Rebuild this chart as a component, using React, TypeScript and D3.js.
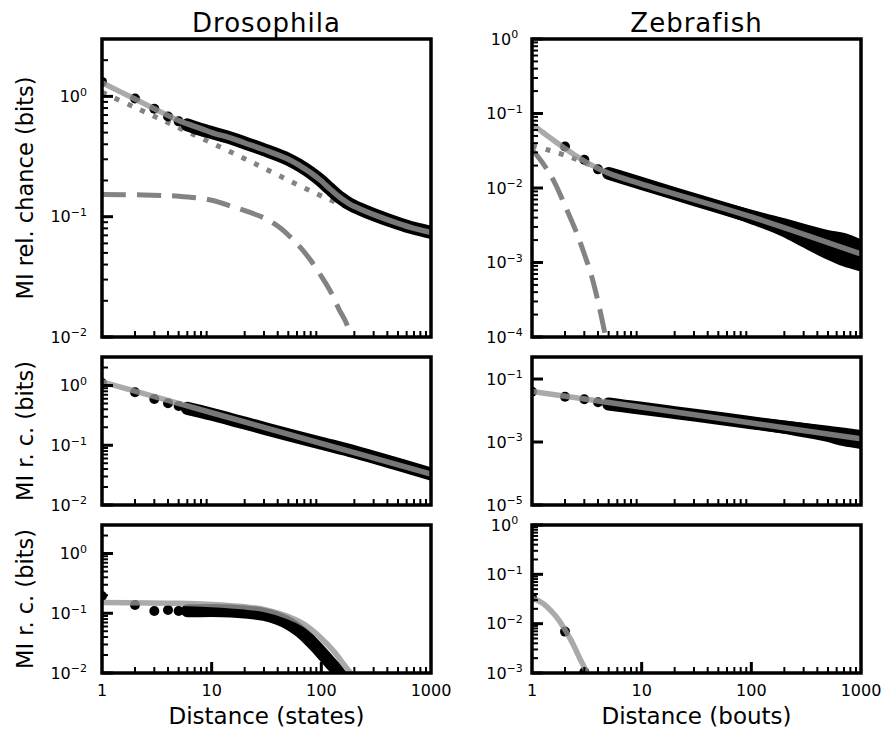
import React from 'react';
import * as d3 from 'd3';

// ---------------- data ----------------
// Drosophila, top panel: MI relative to chance
const dTopDotX = [1, 2, 3, 4, 5, 6, 7, 8];
const dTopDotY = [1.32, 0.96, 0.79, 0.68, 0.62, 0.58, 0.55, 0.53];
const dTopBandX = [6, 8, 10, 15, 20, 30, 50, 64, 80, 100, 120, 150, 180, 220, 300, 500, 700, 1000];
const dTopBandY = [0.58, 0.53, 0.5, 0.45, 0.41, 0.36, 0.3, 0.265, 0.232, 0.198, 0.17, 0.143, 0.128, 0.117, 0.104, 0.088, 0.08, 0.074];
const dTopFitX = [1, 2, 3, 5, 8, 10, 15, 20, 30, 50, 64, 80, 100, 120, 150, 180, 220, 300, 500, 700, 1000];
const dTopFitY = [1.3, 0.95, 0.79, 0.63, 0.54, 0.5, 0.45, 0.41, 0.36, 0.3, 0.265, 0.232, 0.198, 0.17, 0.143, 0.128, 0.117, 0.104, 0.088, 0.08, 0.074];
const dTopPowX = [1, 2, 5, 10, 24, 64, 121, 200, 400, 1000];
const dTopPowY = [1.08, 0.81, 0.55, 0.41, 0.28, 0.18, 0.138, 0.115, 0.095, 0.074];
const dTopExpX = [1, 5, 10, 16, 24, 32, 42, 52, 65, 79, 100, 121, 145, 166, 190, 215];
const dTopExpY = [0.153, 0.148, 0.137, 0.12, 0.106, 0.095, 0.081, 0.068, 0.055, 0.044, 0.032, 0.024, 0.017, 0.0135, 0.0098, 0.0072];

// Zebrafish, top panel
const zTopDotX = [2, 3, 4, 5, 6];
const zTopDotY = [0.036, 0.024, 0.0178, 0.0157, 0.0145];
const zTopBandX = [5, 7, 10, 20, 50, 100, 200, 500, 1000];
const zTopBandY = [0.0157, 0.0135, 0.0115, 0.0084, 0.0056, 0.0041, 0.003, 0.0019, 0.0013];
const zTopSpreadX = [50, 100, 200, 300, 500, 700, 1000];
const zTopSpreadHi = [0.0057, 0.0043, 0.0033, 0.0028, 0.0023, 0.0021, 0.0017];
const zTopSpreadLo = [0.0055, 0.0039, 0.0026, 0.0019, 0.0013, 0.00105, 0.0009];
const zTopFitX = [1, 1.25, 1.5, 2, 3, 5, 10, 100, 1000];
const zTopFitY = [0.072, 0.056, 0.046, 0.034, 0.023, 0.0158, 0.0113, 0.0041, 0.0013];
const zTopPowX = [1, 1.4, 2, 3, 5, 10, 100, 1000];
const zTopPowY = [0.037, 0.0324, 0.0275, 0.022, 0.0158, 0.0113, 0.0041, 0.0013];
const zTopExpX = [1, 1.3, 1.6, 2, 2.5, 3, 3.5, 4, 4.7];
const zTopExpY = [0.033, 0.02, 0.012, 0.0058, 0.0027, 0.0013, 0.00065, 0.0003, 0.0001];

// Drosophila, middle panel
const dMidDotX = [1, 2, 3, 4, 5, 6, 7];
const dMidDotY = [1.1, 0.77, 0.594, 0.504, 0.454, 0.415, 0.385];
const dMidBandX = [6, 10, 20, 50, 100, 200, 500, 1000];
const dMidBandY = [0.415, 0.33, 0.235, 0.15, 0.108, 0.078, 0.048, 0.033];
const dMidFitX = [1, 10, 100, 1000];
const dMidFitY = [1.15, 0.35, 0.107, 0.033];

// Zebrafish, middle panel
const zMidDotX = [1, 2, 3, 4, 5, 6];
const zMidDotY = [0.0395, 0.0275, 0.0227, 0.0182, 0.0161, 0.0148];
const zMidBandX = [5, 7, 10, 20, 50, 100, 200, 500, 1000];
const zMidBandY = [0.0161, 0.0138, 0.0118, 0.0086, 0.0057, 0.0041, 0.003, 0.0019, 0.00126];
const zMidSpreadX = [100, 200, 500, 700, 1000];
const zMidSpreadHi = [0.0042, 0.0032, 0.0022, 0.0019, 0.0016];
const zMidSpreadLo = [0.004, 0.0027, 0.0015, 0.0011, 0.0009];
const zMidFitX = [1, 10, 100, 1000];
const zMidFitY = [0.04, 0.0127, 0.004, 0.00127];

// Drosophila, bottom panel
const dBotDotX = [1, 2, 3, 4, 5, 6, 7];
const dBotDotY = [0.195, 0.137, 0.109, 0.113, 0.109, 0.11, 0.11];
const dBotBandX = [6, 7, 10, 15, 20, 30, 40, 50, 64, 80, 100, 120, 140, 160, 180];
const dBotBandY = [0.11, 0.11, 0.111, 0.109, 0.105, 0.096, 0.082, 0.068, 0.05, 0.034, 0.022, 0.015, 0.0108, 0.0075, 0.0052];
const dBotFitX = [1, 5, 10, 20, 30, 50, 70, 100, 130, 160, 190, 220];
const dBotFitY = [0.152, 0.147, 0.14, 0.128, 0.116, 0.088, 0.065, 0.038, 0.023, 0.014, 0.0092, 0.006];

// Zebrafish, bottom panel
const zBotDotX = [1, 2, 3];
const zBotDotY = [0.034, 0.0069, 0.00105];
const zBotFitX = [1, 1.25, 1.5, 1.75, 2, 2.25, 2.5, 2.75, 3, 3.3, 3.6];
const zBotFitY = [0.033, 0.026, 0.018, 0.012, 0.0075, 0.0048, 0.003, 0.0019, 0.0013, 0.0008, 0.0005];

// axis ticks
const xTickValues = [1, 10, 100, 1000];
const xTickLabels = ['1', '10', '100', '1000'];
const dTopYTicks = [-2, -1, 0];
const zTopYTicks = [-4, -3, -2, -1, 0];
const dMidYTicks = [-2, -1, 0];
const zMidYTicks = [-5, -3, -1];
const dBotYTicks = [-2, -1, 0];
const zBotYTicks = [-3, -2, -1, 0];

const columnTitles = ['Drosophila', 'Zebrafish'];
const rowLabels = ['MI rel. chance (bits)', 'MI r. c. (bits)', 'MI r. c. (bits)'];
const xAxisLabels = ['Distance (states)', 'Distance (bouts)'];

// ---------------- layout ----------------
const FONT = "'DejaVu Sans', Verdana, sans-serif";
const COLS = [
  { x0: 102, x1: 431 },
  { x0: 532, x1: 861 },
];
const ROWS = [
  { y0: 39, y1: 337 },
  { y0: 357, y1: 505 },
  { y0: 525, y1: 673 },
];

type Panel = {
  id: string;
  col: number;
  row: number;
  yDomain: [number, number];
  yTicks: number[];
  yMinor: boolean;
  dotX: number[];
  dotY: number[];
  bandX?: number[];
  bandY?: number[];
  spreadX?: number[];
  spreadLo?: number[];
  spreadHi?: number[];
  fitX: number[];
  fitY: number[];
  powX?: number[];
  powY?: number[];
  expX?: number[];
  expY?: number[];
};

const panels: Panel[] = [
  {
    id: 'dt', col: 0, row: 0, yDomain: [0.01, 3], yTicks: dTopYTicks, yMinor: true,
    dotX: dTopDotX, dotY: dTopDotY, bandX: dTopBandX, bandY: dTopBandY,
    fitX: dTopFitX, fitY: dTopFitY, powX: dTopPowX, powY: dTopPowY, expX: dTopExpX, expY: dTopExpY,
  },
  {
    id: 'zt', col: 1, row: 0, yDomain: [1e-4, 1], yTicks: zTopYTicks, yMinor: true,
    dotX: zTopDotX, dotY: zTopDotY, bandX: zTopBandX, bandY: zTopBandY,
    spreadX: zTopSpreadX, spreadLo: zTopSpreadLo, spreadHi: zTopSpreadHi,
    fitX: zTopFitX, fitY: zTopFitY, powX: zTopPowX, powY: zTopPowY, expX: zTopExpX, expY: zTopExpY,
  },
  {
    id: 'dm', col: 0, row: 1, yDomain: [0.01, 3], yTicks: dMidYTicks, yMinor: true,
    dotX: dMidDotX, dotY: dMidDotY, bandX: dMidBandX, bandY: dMidBandY,
    fitX: dMidFitX, fitY: dMidFitY,
  },
  {
    id: 'zm', col: 1, row: 1, yDomain: [1e-5, 0.5], yTicks: zMidYTicks, yMinor: false,
    dotX: zMidDotX, dotY: zMidDotY, bandX: zMidBandX, bandY: zMidBandY,
    spreadX: zMidSpreadX, spreadLo: zMidSpreadLo, spreadHi: zMidSpreadHi,
    fitX: zMidFitX, fitY: zMidFitY,
  },
  {
    id: 'db', col: 0, row: 2, yDomain: [0.01, 3], yTicks: dBotYTicks, yMinor: true,
    dotX: dBotDotX, dotY: dBotDotY, bandX: dBotBandX, bandY: dBotBandY,
    fitX: dBotFitX, fitY: dBotFitY,
  },
  {
    id: 'zb', col: 1, row: 2, yDomain: [1e-3, 1], yTicks: zBotYTicks, yMinor: true,
    dotX: zBotDotX, dotY: zBotDotY,
    fitX: zBotFitX, fitY: zBotFitY,
  },
];

const isPow10 = (v: number) => Math.abs(Math.log10(v) - Math.round(Math.log10(v))) < 1e-9;

function PanelView({ p }: { p: Panel }) {
  const { x0, x1 } = COLS[p.col];
  const { y0, y1 } = ROWS[p.row];
  const xs = d3.scaleLog().domain([1, 1000]).range([x0, x1]);
  const ys = d3.scaleLog().domain(p.yDomain).range([y1, y0]);

  const path = (X: number[], Y: number[]) =>
    d3
      .line<number>()
      .x((_, i) => xs(X[i]))
      .y((_, i) => ys(Y[i]))
      .curve(d3.curveCatmullRom.alpha(0.5))(X) || '';

  const area = (X: number[], lo: number[], hi: number[]) =>
    d3
      .area<number>()
      .x((_, i) => xs(X[i]))
      .y0((_, i) => ys(lo[i]))
      .y1((_, i) => ys(hi[i]))
      .curve(d3.curveMonotoneX)(X) || '';

  const xt = xs.ticks();
  const xMinor = xt.filter((v) => !isPow10(v));
  const xMajor = xt.filter((v) => isPow10(v) && v > 1 && v < 1000);
  const yt = ys.ticks();
  const yMinor = p.yMinor ? yt.filter((v) => !isPow10(v)) : [];
  const bottom = p.row === 2;
  const clip = `clip-${p.id}`;
  const fitColor = 'rgb(149,149,149)';
  const compColor = '#838383';

  return (
    <g>
      <defs>
        <clipPath id={clip}>
          <rect x={x0} y={y0} width={x1 - x0} height={y1 - y0} />
        </clipPath>
      </defs>
      <g clipPath={`url(#${clip})`}>
        {p.powX && (
          <path d={path(p.powX, p.powY!)} fill="none" stroke={compColor} strokeWidth={5} strokeDasharray="5 9" />
        )}
        {p.expX && (
          <path d={path(p.expX, p.expY!)} fill="none" stroke={compColor} strokeWidth={5} strokeDasharray="24 11" />
        )}
        {p.spreadX && (
          <path
            d={area(p.spreadX, p.spreadLo!, p.spreadHi!)}
            fill="#000"
            stroke="#000"
            strokeWidth={11}
            strokeLinejoin="round"
          />
        )}
        {p.bandX && (
          <path
            d={path(p.bandX, p.bandY!)}
            fill="none"
            stroke="#000"
            strokeWidth={13}
            strokeLinecap="round"
            strokeLinejoin="round"
          />
        )}
        {p.dotX.map((x, i) => (
          <circle key={i} cx={xs(x)} cy={ys(p.dotY[i])} r={5} fill="#000" />
        ))}
        <path d={path(p.fitX, p.fitY)} fill="none" stroke={fitColor} strokeOpacity={0.8} strokeWidth={5.5} />
      </g>

      {/* y ticks */}
      {yMinor.map((v, i) => (
        <line key={'ym' + i} x1={x0} x2={x0 + 6} y1={ys(v)} y2={ys(v)} stroke="#000" strokeWidth={2} />
      ))}
      {p.yTicks.map((e) => (
        <line key={'yM' + e} x1={x0} x2={x0 + 11} y1={ys(Math.pow(10, e))} y2={ys(Math.pow(10, e))} stroke="#000" strokeWidth={3} />
      ))}
      {/* x ticks */}
      {xMinor.map((v, i) => (
        <line key={'xm' + i} x1={xs(v)} x2={xs(v)} y1={y1} y2={y1 - 6} stroke="#000" strokeWidth={2} />
      ))}
      {bottom &&
        xMajor.map((v, i) => (
          <line key={'xM' + i} x1={xs(v)} x2={xs(v)} y1={y1} y2={y1 - 11} stroke="#000" strokeWidth={3} />
        ))}

      <rect x={x0} y={y0} width={x1 - x0} height={y1 - y0} fill="none" stroke="#000" strokeWidth={3.5} />

      {/* y tick labels */}
      {p.yTicks.map((e) => {
        const ty = ys(Math.pow(10, e));
        const sup = e < 0 ? '\u2212' + String(-e) : String(e);
        const anchor = p.col === 0 ? 'end' : 'middle';
        const tx = p.col === 0 ? x0 - 15 : x0 - 27.5;
        return (
          <text key={'yl' + e} x={tx} y={ty + 5.8} textAnchor={anchor} fontFamily={FONT} fontSize={16} fill="#000">
            10
            <tspan dy={-6.5} fontSize={11}>
              {sup}
            </tspan>
          </text>
        );
      })}
      {/* x tick labels */}
      {bottom &&
        xTickValues.map((v, i) => (
          <text key={'xl' + i} x={xs(v)} y={696} textAnchor="middle" fontFamily={FONT} fontSize={16} fill="#000">
            {xTickLabels[i]}
          </text>
        ))}
    </g>
  );
}

export default function App() {
  const W = 881;
  const H = 732;
  return (
    <svg
      width={W}
      height={H}
      viewBox={`0 0 ${W} ${H}`}
      style={{ position: 'absolute', left: 0, top: 0, background: '#fff', display: 'block' }}
    >
      <rect x={0} y={0} width={W} height={H} fill="#fff" />
      {panels.map((p) => (
        <PanelView key={p.id} p={p} />
      ))}
      {columnTitles.map((t, i) => (
        <text
          key={t}
          x={(COLS[i].x0 + COLS[i].x1) / 2}
          y={32}
          textAnchor="middle"
          fontFamily={FONT}
          fontSize={26}
          letterSpacing={1}
          fill="#000"
        >
          {t}
        </text>
      ))}
      {rowLabels.map((t, i) => {
        const cy = (ROWS[i].y0 + ROWS[i].y1) / 2;
        return (
          <text
            key={i}
            transform={`translate(33,${cy}) rotate(-90)`}
            textAnchor="middle"
            fontFamily={FONT}
            fontSize={22.5}
            fill="#000"
          >
            {t}
          </text>
        );
      })}
      {xAxisLabels.map((t, i) => (
        <text
          key={t}
          x={(COLS[i].x0 + COLS[i].x1) / 2}
          y={724}
          textAnchor="middle"
          fontFamily={FONT}
          fontSize={23}
          fill="#000"
        >
          {t}
        </text>
      ))}
    </svg>
  );
}
